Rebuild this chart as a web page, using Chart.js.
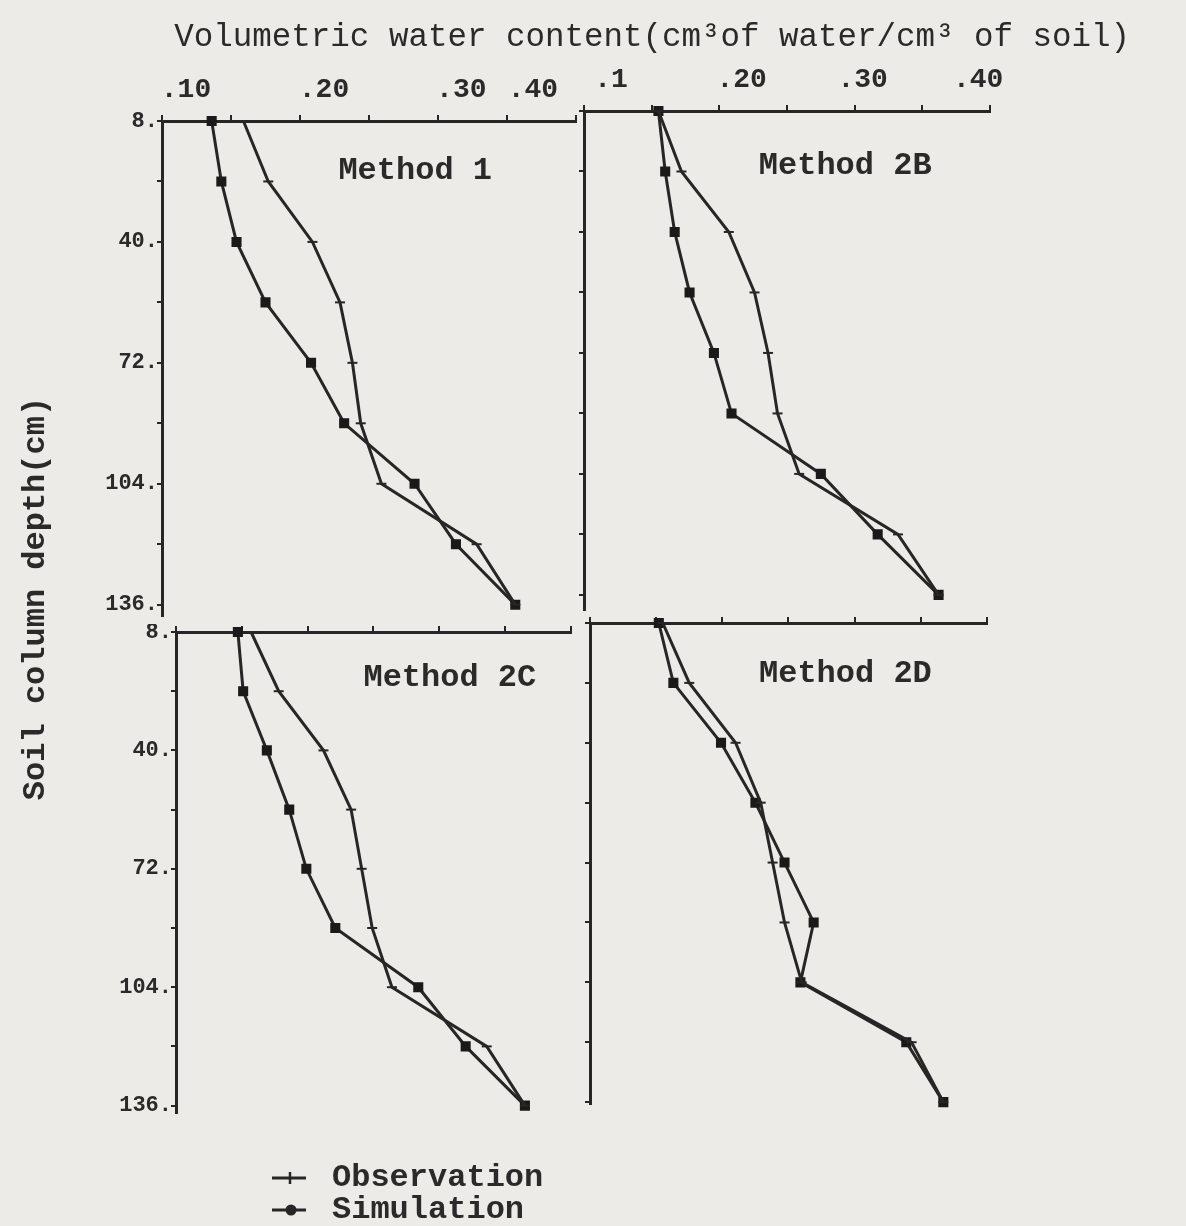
<!DOCTYPE html>
<html>
<head>
<meta charset="utf-8">
<script src="https://cdn.jsdelivr.net/npm/chart.js@4.4.1/dist/chart.umd.min.js"></script>
<style>
  html, body { margin: 0; padding: 0; background: #ecebe8; overflow: hidden; }
  #page { position: relative; width: 1186px; height: 1226px; }
  canvas { position: absolute; }
</style>
</head>
<body>
<div id="page">
  <canvas id="frame"></canvas>
  <canvas id="p1"></canvas>
  <canvas id="p2"></canvas>
  <canvas id="p3"></canvas>
  <canvas id="p4"></canvas>
  <canvas id="legend"></canvas>
</div>
<script>
// ---------------- DATA ----------------
const depths = [8, 24, 40, 56, 72, 88, 104, 120, 136];          // soil column depth (cm)
const depthLabelled = [8, 40, 72, 104, 136];                      // depths that carry a tick label
const waterTicks = [0.10, 0.15, 0.20, 0.25, 0.30, 0.35, 0.40];    // volumetric water content ticks
const topLabelsLeft = ['.10', '.20', '.30', '.40'];
const topLabelsRight = ['.1', '.20', '.30', '.40'];

const panelNames = ['Method 1', 'Method 2B', 'Method 2C', 'Method 2D'];
const seriesNames = ['Observation', 'Simulation'];

const obs1 = [0.159, 0.177, 0.209, 0.229, 0.238, 0.244, 0.259, 0.328, 0.356];
const sim1 = [0.136, 0.143, 0.154, 0.175, 0.208, 0.232, 0.283, 0.313, 0.356];
const obs2 = [0.155, 0.172, 0.207, 0.226, 0.236, 0.243, 0.259, 0.332, 0.362];
const sim2 = [0.155, 0.160, 0.167, 0.178, 0.196, 0.209, 0.275, 0.317, 0.362];
const obs3 = [0.157, 0.178, 0.212, 0.233, 0.241, 0.249, 0.264, 0.336, 0.365];
const sim3 = [0.147, 0.151, 0.169, 0.186, 0.199, 0.221, 0.284, 0.320, 0.365];
const obs4 = [0.155, 0.175, 0.210, 0.229, 0.238, 0.247, 0.260, 0.343, 0.367];
const sim4 = [0.152, 0.163, 0.199, 0.225, 0.247, 0.269, 0.259, 0.339, 0.367];

const titleText = 'Volumetric water content(cm\u00B3of water/cm\u00B3 of soil)';
const yTitleText = 'Soil column depth(cm)';

// ---------------- STYLE ----------------
const INK = '#262626';
const TXT = '#2a2a2a';
const MONO = "'Liberation Mono', 'Courier New', 'DejaVu Sans Mono', monospace";
Chart.defaults.font.family = MONO;
Chart.defaults.color = TXT;
Chart.defaults.animation = false;
Chart.defaults.responsive = false;
Chart.defaults.devicePixelRatio = 1;

function place(id, left, top, w, h) {
  const c = document.getElementById(id);
  c.width = w; c.height = h;
  c.style.left = left + 'px'; c.style.top = top + 'px';
  c.style.width = w + 'px'; c.style.height = h + 'px';
  return c;
}

const methodLabel = {
  id: 'methodLabel',
  afterDatasetsDraw(chart, args, opts) {
    if (!opts || !opts.text) return;
    const {ctx, scales} = chart;
    ctx.save();
    ctx.font = opts.font;
    ctx.fillStyle = TXT;
    ctx.textAlign = 'center';
    ctx.textBaseline = 'middle';
    ctx.fillText(opts.text, scales.x.getPixelForValue(opts.at[0]), scales.y.getPixelForValue(opts.at[1]));
    ctx.restore();
  }
};

function toPts(vals) { return depths.map((d, i) => ({x: vals[i], y: d})); }

function makePanel(id, g) {
  const topH = g.labels ? 44 : 6;
  const padR = g.padR || 0;
  const left = g.area.l - g.yw, top = g.area.t - topH;
  const c = place(id, left, top, g.area.r - left + padR, g.area.b - top);
  const scales = {
    x: {
      type: 'linear', position: 'top', min: 0.10, max: 0.40, weight: 0,
      afterBuildTicks: s => { s.ticks = waterTicks.map(v => ({value: v})); },
      afterFit: s => { s.height = 6; s.paddingLeft = 0; s.paddingRight = 0; },
      grid: {display: true, drawOnChartArea: false, drawTicks: true, tickLength: 6, color: INK, lineWidth: 2},
      border: {display: true, color: INK, width: 3},
      ticks: {display: false}
    },
    y: {
      type: 'linear', position: 'left', reverse: true, min: 8, max: g.ymax,
      afterBuildTicks: s => { s.ticks = depths.map(v => ({value: v})); },
      afterFit: s => { s.width = g.yw; s.paddingTop = 0; s.paddingBottom = 0; },
      grid: {display: true, drawOnChartArea: false, drawTicks: true, tickLength: 5, color: INK, lineWidth: 2},
      border: {display: true, color: INK, width: 3},
      ticks: {
        display: g.yLabels, padding: -1, autoSkip: false, color: TXT,
        font: {size: 22, weight: 'bold'},
        callback: v => depthLabelled.includes(v) ? v + '.' : ''
      }
    }
  };
  if (g.labels) {
    scales.xl = {
      type: 'linear', position: 'top', min: 0.10, max: 0.40, weight: 1,
      afterBuildTicks: s => { s.ticks = g.labelAt.map(v => ({value: v})); },
      afterFit: s => { s.height = 38; s.paddingLeft = 0; s.paddingRight = 0; },
      grid: {display: false}, border: {display: false},
      ticks: {autoSkip: false, maxRotation: 0, padding: 0, color: TXT, font: {size: 28, weight: 'bold'},
              callback: (v, i) => g.labels[i]}
    };
  }
  return new Chart(c, {
    type: 'scatter',
    data: {
      datasets: [
        {label: seriesNames[0], data: toPts(g.obs), showLine: true, borderColor: INK, borderWidth: 3,
         pointStyle: 'line', pointRadius: 5, pointBorderWidth: 2, pointBorderColor: INK, clip: false},
        {label: seriesNames[1], data: toPts(g.sim), showLine: true, borderColor: INK, borderWidth: 3,
         pointStyle: 'rect', pointRadius: 5, pointBackgroundColor: '#1a1a1a', pointBorderColor: '#1a1a1a', clip: false}
      ]
    },
    options: {
      layout: {padding: {left: 0, top: 0, bottom: 0, right: padR}},
      scales,
      plugins: {
        legend: {display: false}, tooltip: {enabled: false},
        methodLabel: {text: g.name, at: g.nameAt, font: 'bold 32px ' + MONO}
      }
    },
    plugins: [methodLabel]
  });
}

makePanel('p1', {area: {l: 162, r: 584, t: 121, b: 624}, ymax: 139, yw: 62, yLabels: true,
  labels: topLabelsLeft, labelAt: [0.1174, 0.2174, 0.3169, 0.3688],
  obs: obs1, sim: sim1, name: panelNames[0], nameAt: [0.2835, 21.3]});
makePanel('p2', {area: {l: 582, r: 990, t: 111, b: 618}, ymax: 140, yw: 6, yLabels: false, padR: 30,
  labels: topLabelsRight, labelAt: [0.1199, 0.2165, 0.3059, 0.3912],
  obs: obs2, sim: sim2, name: panelNames[1], nameAt: [0.293, 22.6]});
makePanel('p3', {area: {l: 176, r: 579, t: 630, b: 1121}, ymax: 138, yw: 76, yLabels: true,
  labels: null, obs: obs3, sim: sim3, name: panelNames[2], nameAt: [0.308, 20.4]});
makePanel('p4', {area: {l: 588, r: 995, t: 621, b: 1112}, ymax: 136.5, yw: 6, yLabels: false,
  labels: null, obs: obs4, sim: sim4, name: panelNames[3], nameAt: [0.293, 21.6]});

// frame chart: overall title and y-axis title
new Chart(place('frame', 0, 0, 1186, 1226), {
  type: 'scatter',
  data: {datasets: []},
  options: {
    layout: {padding: {left: 13, right: 56, top: 0, bottom: 96}},
    scales: {
      x: {display: false},
      y: {display: true, ticks: {display: false}, grid: {display: false}, border: {display: false},
          title: {display: true, text: yTitleText, color: TXT, font: {size: 32, weight: 'bold'}, padding: {top: 4, bottom: 4}}}
    },
    plugins: {
      legend: {display: false}, tooltip: {enabled: false},
      title: {display: true, text: titleText, align: 'end', color: TXT,
              font: {size: 32.5, weight: 'normal'}, padding: {top: 18, bottom: 10}}
    }
  }
});

// legend chart (symbols: line with tick for observation, line with dot for simulation)
function legendImage(kind) {
  const c = document.createElement('canvas');
  c.width = 44; c.height = 16;
  const x = c.getContext('2d');
  x.strokeStyle = INK; x.fillStyle = INK;
  x.lineWidth = 3;
  x.beginPath(); x.moveTo(0, 8); x.lineTo(34, 8); x.stroke();
  if (kind === 'obs') {
    x.lineWidth = 2.5; x.beginPath(); x.moveTo(18, 2); x.lineTo(18, 14); x.stroke();
  } else {
    x.beginPath(); x.arc(19, 8, 5.5, 0, Math.PI * 2); x.fill();
  }
  return c;
}
const legendImgs = [legendImage('obs'), legendImage('sim')];
new Chart(place('legend', 272, 1162, 620, 64), {
  type: 'scatter',
  data: {datasets: seriesNames.map(n => ({label: n, data: []}))},
  options: {
    layout: {padding: 0},
    scales: {x: {display: false}, y: {display: false}},
    plugins: {
      tooltip: {enabled: false},
      legend: {
        display: true, position: 'left', align: 'start',
        labels: {
          usePointStyle: true, pointStyleWidth: 44, padding: 0, color: TXT, font: {size: 32, weight: 'bold'},
          generateLabels: chart => chart.data.datasets.map((ds, i) => ({
            text: ds.label, datasetIndex: i, hidden: false, fontColor: TXT,
            pointStyle: legendImgs[i], lineWidth: 0, strokeStyle: INK, fillStyle: INK, rotation: 0
          }))
        }
      }
    }
  }
});
</script>
</body>
</html>
